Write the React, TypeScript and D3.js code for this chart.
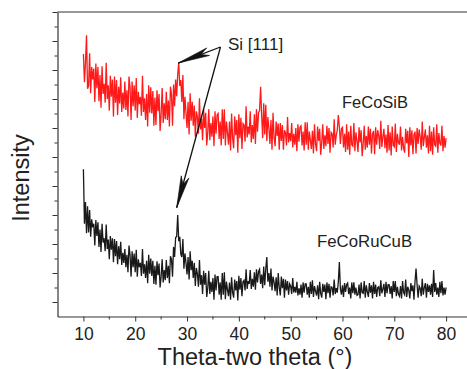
import React, { useEffect, useRef } from 'react';
import * as d3 from 'd3';

// 2-theta grid, 10..80 deg every 0.2 deg
const twoTheta = d3.range(0, 351).map((i) => 10 + i * 0.2);

// intensities (arbitrary counts), 5 values per degree
const feCoSiB = [
    1810, 1615, 1750, 1940, 1570, 1590, 1815, 1540, 1720, 1635, 1710, 1480, 1745, 1575, 1720,
    1485, 1665, 1440, 1725, 1535, 1605, 1475, 1750, 1500, 1595, 1420, 1660, 1515, 1635, 1380,
    1655, 1475, 1630, 1390, 1585, 1470, 1650, 1410, 1545, 1435, 1620, 1425, 1560, 1380, 1655,
    1585, 1355, 1620, 1450, 1595, 1420, 1645, 1370, 1550, 1465, 1515, 1385, 1660, 1410, 1505,
    1355, 1535, 1310, 1595, 1405, 1580, 1400, 1555, 1315, 1510, 1320, 1560, 1415, 1535, 1280,
    1395, 1575, 1335, 1470, 1360, 1550, 1355, 1490, 1310, 1585, 1530, 1315, 1600, 1450, 1635,
    1520, 1670, 1750, 1590, 1630, 1480, 1665, 1360, 1515, 1405, 1300, 1480, 1255, 1540, 1350,
    1480, 1315, 1455, 1240, 1415, 1375, 1260, 1505, 1290, 1365, 1215, 1430, 1300, 1405, 1180,
    1270, 1430, 1215, 1335, 1240, 1380, 1175, 1415, 1260, 1390, 1400, 1225, 1345, 1180, 1430,
    1225, 1430, 1180, 1345, 1270, 1185, 1345, 1145, 1400, 1230, 1160, 1380, 1250, 1355, 1130,
    1395, 1230, 1370, 1155, 1330, 1320, 1205, 1450, 1235, 1310, 1255, 1415, 1200, 1320, 1225,
    1395, 1190, 1430, 1275, 1405, 1420, 1585, 1390, 1230, 1470, 1255, 1460, 1210, 1375, 1300,
    1190, 1355, 1150, 1405, 1235, 1175, 1345, 1245, 1330, 1150, 1335, 1210, 1320, 1150, 1285,
    1270, 1180, 1375, 1200, 1265, 1210, 1335, 1165, 1260, 1185, 1300, 1140, 1325, 1205, 1305,
    1315, 1180, 1275, 1145, 1340, 1185, 1340, 1150, 1275, 1215, 1155, 1280, 1125, 1325, 1190,
    1140, 1310, 1210, 1295, 1115, 1200, 1325, 1155, 1250, 1175, 1315, 1190, 1300, 1130, 1270,
    1260, 1165, 1360, 1185, 1250, 1285, 1390, 1310, 1190, 1295, 1305, 1165, 1260, 1135, 1325,
    1150, 1275, 1115, 1315, 1185, 1175, 1335, 1140, 1270, 1210, 1135, 1305, 1200, 1285, 1105,
    1190, 1315, 1150, 1245, 1165, 1310, 1185, 1295, 1125, 1260, 1280, 1120, 1305, 1185, 1285,
    1245, 1155, 1350, 1170, 1240, 1295, 1160, 1255, 1130, 1320, 1145, 1270, 1110, 1310, 1180,
    1170, 1330, 1135, 1260, 1200, 1185, 1310, 1145, 1240, 1160, 1130, 1295, 1195, 1280, 1100,
    1305, 1180, 1285, 1120, 1255, 1275, 1125, 1300, 1190, 1290, 1240, 1150, 1345, 1175, 1235,
    1290, 1165, 1250, 1125, 1315, 1140, 1275, 1115, 1305, 1185, 1175, 1325, 1130, 1265, 1195,
    1180, 1315, 1140, 1245, 1165, 1230,
];

const feCoRuCuB = [
    1015, 640, 790, 575, 760, 580, 735, 550, 670, 615, 640, 490, 665, 555, 650,
    480, 600, 445, 640, 510, 540, 450, 635, 465, 530, 395, 555, 460, 540, 375,
    535, 415, 520, 360, 485, 395, 515, 355, 440, 370, 465, 340, 425, 305, 490,
    425, 275, 450, 340, 435, 305, 460, 275, 395, 340, 370, 280, 465, 295, 360,
    265, 385, 230, 425, 295, 400, 280, 385, 225, 350, 220, 380, 285, 365, 200,
    275, 395, 235, 320, 250, 390, 265, 350, 230, 415, 395, 275, 480, 410, 545,
    550, 700, 520, 550, 430, 410, 535, 330, 435, 370, 290, 410, 255, 450, 320,
    385, 265, 370, 210, 335, 295, 205, 390, 220, 285, 155, 315, 220, 300, 135,
    195, 315, 155, 240, 170, 265, 115, 290, 180, 275, 275, 150, 235, 115, 300,
    150, 305, 120, 240, 185, 140, 235, 115, 270, 165, 130, 255, 180, 245, 110,
    280, 185, 265, 140, 240, 250, 180, 325, 190, 245, 225, 320, 190, 260, 205,
    305, 185, 325, 235, 310, 325, 225, 290, 195, 345, 215, 330, 410, 240, 300,
    205, 330, 180, 275, 235, 175, 270, 145, 300, 200, 145, 275, 195, 260, 130,
    255, 180, 245, 150, 225, 210, 155, 265, 165, 205, 165, 240, 145, 195, 150,
    220, 130, 235, 165, 225, 225, 150, 205, 130, 240, 155, 250, 135, 210, 175,
    145, 215, 120, 240, 160, 130, 225, 170, 220, 120, 235, 160, 225, 130, 205,
    200, 145, 255, 155, 195, 165, 240, 375, 190, 150, 215, 135, 230, 170, 220,
    230, 155, 200, 125, 235, 160, 235, 150, 200, 145, 150, 220, 125, 235, 165,
    160, 245, 130, 215, 170, 135, 230, 165, 215, 125, 240, 155, 220, 135, 200,
    205, 140, 250, 160, 190, 225, 135, 240, 160, 220, 220, 155, 210, 125, 245,
    170, 245, 140, 205, 155, 140, 210, 125, 245, 165, 150, 255, 135, 205, 180,
    125, 230, 175, 215, 115, 240, 330, 220, 130, 210, 195, 140, 260, 150, 200,
    230, 130, 225, 170, 215, 150, 225, 135, 320, 170, 230, 150, 200, 135, 240,
    160, 245, 145, 200, 150, 200,
];

const xMajor = [10, 20, 30, 40, 50, 60, 70, 80];
const xMinor = [15, 25, 35, 45, 55, 65, 75];
const yTicks = d3.range(1, 22).map((i) => i * 100);

const W = 467;
const H = 369;
const FONT = 'Arial, "Liberation Sans", sans-serif';

export default function App() {
    const ref = useRef<SVGSVGElement>(null);

    useEffect(() => {
        const svg = d3.select(ref.current);
        svg.selectAll('*').remove();

        const x = d3.scaleLinear().domain([5, 85]).range([57.5, 472]);
        const y = d3.scaleLinear().domain([0, 2100]).range([316.5, 12]);

        const line = d3
            .line<number>()
            .x((d, i) => x(twoTheta[i]))
            .y((d) => y(d));

        svg.append('path')
            .attr('d', line(feCoSiB))
            .attr('fill', 'none')
            .attr('stroke', '#ff0000')
            .attr('stroke-opacity', 0.9)
            .attr('stroke-width', 1.3);

        svg.append('path')
            .attr('d', line(feCoRuCuB))
            .attr('fill', 'none')
            .attr('stroke', '#000')
            .attr('stroke-opacity', 0.9)
            .attr('stroke-width', 1.3);

        // frame
        svg.append('line')
            .attr('x1', x(5))
            .attr('x2', W)
            .attr('y1', y(2100))
            .attr('y2', y(2100))
            .attr('stroke', '#333')
            .attr('stroke-width', 1.2);

        const xAxis = svg.append('g').attr('transform', `translate(0,${y(0)})`);
        xAxis.call(d3.axisBottom(x).tickValues(xMajor).tickSize(5).tickSizeOuter(0));
        xAxis
            .selectAll('line.minor')
            .data(xMinor)
            .enter()
            .append('line')
            .attr('class', 'minor')
            .attr('x1', (d) => x(d))
            .attr('x2', (d) => x(d))
            .attr('y1', 0)
            .attr('y2', 3);

        const yAxis = svg.append('g').attr('transform', `translate(${x(5)},0)`);
        yAxis.call(
            d3
                .axisLeft(y)
                .tickValues(yTicks)
                .tickSizeOuter(0)
                .tickFormat(() => '')
        );
        yAxis.selectAll('.tick line').attr('x2', (d: any) => ((d / 100) % 2 === 1 ? -5 : -3));

        svg.selectAll('.domain').attr('stroke', '#333').attr('stroke-width', 1.2);
        svg.selectAll('.tick line, line.minor').attr('stroke', '#333').attr('stroke-width', 1);
        xAxis
            .selectAll('.tick text')
            .attr('font-family', FONT)
            .attr('font-size', 17.5)
            .attr('fill', '#222')
            .attr('dy', null)
            .attr('y', 23);

        svg.append('text')
            .attr('x', 255)
            .attr('y', 365)
            .attr('text-anchor', 'middle')
            .attr('font-family', FONT)
            .attr('font-size', 23.5)
            .attr('fill', '#222')
            .text('Theta-two theta (°)');

        svg.append('text')
            .attr('transform', 'translate(29,178) rotate(-90)')
            .attr('text-anchor', 'middle')
            .attr('font-family', FONT)
            .attr('font-size', 23.5)
            .attr('fill', '#222')
            .text('Intensity');

        // annotations
        const start: [number, number] = [220.5, 47];
        const tips: [number, number][] = [
            [x(28.3), y(1748)],
            [x(28.0), y(750)],
        ];
        tips.forEach(([tx, ty]) => {
            svg.append('line')
                .attr('x1', start[0])
                .attr('y1', start[1])
                .attr('x2', tx)
                .attr('y2', ty)
                .attr('stroke', '#111')
                .attr('stroke-width', 1.3);
            const ang = (Math.atan2(start[1] - ty, start[0] - tx) * 180) / Math.PI;
            svg.append('path')
                .attr('d', 'M0,0 L32,-4 L24,0 L32,4 Z')
                .attr('transform', `translate(${tx},${ty}) rotate(${ang})`)
                .attr('fill', '#111')
                .attr('stroke', '#111')
                .attr('stroke-width', 0.6);
        });

        svg.append('text')
            .attr('x', 228)
            .attr('y', 50)
            .attr('font-family', FONT)
            .attr('font-size', 17)
            .attr('fill', '#222')
            .text('Si [111]');

        svg.append('text')
            .attr('x', 342)
            .attr('y', 108)
            .attr('font-family', FONT)
            .attr('font-size', 16.5)
            .attr('fill', '#222')
            .text('FeCoSiB');

        svg.append('text')
            .attr('x', 317)
            .attr('y', 247)
            .attr('font-family', FONT)
            .attr('font-size', 16.8)
            .attr('fill', '#222')
            .text('FeCoRuCuB');
    }, []);

    return (
        <svg
            ref={ref}
            width={W}
            height={H}
            style={{ position: 'absolute', left: 0, top: 0, background: '#fff' }}
        />
    );
}
